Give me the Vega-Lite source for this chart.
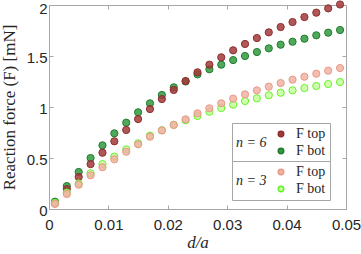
{
  "$schema": "https://vega.github.io/schema/vega-lite/v6.json",
  "width": 297,
  "height": 204,
  "autosize": {"type": "none"},
  "padding": {"left": 49, "top": 5, "right": 15, "bottom": 45},
  "background": "white",
  "config": {
    "view": {"stroke": "#a6a6a6", "strokeWidth": 1},
    "axis": {
      "grid": false,
      "domainColor": "#a6a6a6",
      "tickColor": "#a6a6a6",
      "tickSize": -4,
      "labelFlush": false,
      "labelFont": "Liberation Sans",
      "labelFontSize": 15,
      "labelColor": "#262626",
      "titleFont": "Liberation Serif",
      "titleFontSize": 17,
      "titleFontWeight": "normal",
      "titleColor": "#262626"
    },
    "legend": {
      "orient": "none",
      "direction": "vertical",
      "strokeColor": "#a6a6a6",
      "fillColor": "white",
      "padding": 4,
      "titleOrient": "left",
      "titleFont": "Liberation Serif",
      "titleFontStyle": "italic",
      "titleFontWeight": "normal",
      "titleFontSize": 14,
      "titleColor": "#262626",
      "titlePadding": 7,
      "labelFont": "Liberation Serif",
      "labelFontSize": 14,
      "labelColor": "#262626",
      "symbolSize": 30,
      "rowPadding": 3,
      "labelOffset": 8,
      "labelLimit": 200
    }
  },
  "datasets": {
    "n6": [
      {"x": 0.001, "F": 0.072, "s": "bot"}, {"x": 0.003, "F": 0.225, "s": "bot"}, {"x": 0.005, "F": 0.363, "s": "bot"}, {"x": 0.007, "F": 0.5, "s": "bot"}, {"x": 0.009, "F": 0.624, "s": "bot"},
      {"x": 0.011, "F": 0.742, "s": "bot"}, {"x": 0.013, "F": 0.846, "s": "bot"}, {"x": 0.015, "F": 0.948, "s": "bot"}, {"x": 0.017, "F": 1.036, "s": "bot"}, {"x": 0.019, "F": 1.118, "s": "bot"},
      {"x": 0.021, "F": 1.193, "s": "bot"}, {"x": 0.023, "F": 1.25, "s": "bot"}, {"x": 0.025, "F": 1.32, "s": "bot"}, {"x": 0.027, "F": 1.37, "s": "bot"}, {"x": 0.029, "F": 1.415, "s": "bot"},
      {"x": 0.031, "F": 1.46, "s": "bot"}, {"x": 0.033, "F": 1.5, "s": "bot"}, {"x": 0.035, "F": 1.539, "s": "bot"}, {"x": 0.037, "F": 1.575, "s": "bot"}, {"x": 0.039, "F": 1.611, "s": "bot"},
      {"x": 0.041, "F": 1.64, "s": "bot"}, {"x": 0.043, "F": 1.67, "s": "bot"}, {"x": 0.045, "F": 1.703, "s": "bot"}, {"x": 0.047, "F": 1.729, "s": "bot"}, {"x": 0.049, "F": 1.755, "s": "bot"},
      {"x": 0.001, "F": 0.056, "s": "top"}, {"x": 0.003, "F": 0.195, "s": "top"}, {"x": 0.005, "F": 0.314, "s": "top"}, {"x": 0.007, "F": 0.44, "s": "top"}, {"x": 0.009, "F": 0.552, "s": "top"},
      {"x": 0.011, "F": 0.664, "s": "top"}, {"x": 0.013, "F": 0.775, "s": "top"}, {"x": 0.015, "F": 0.882, "s": "top"}, {"x": 0.017, "F": 0.98, "s": "top"}, {"x": 0.019, "F": 1.078, "s": "top"},
      {"x": 0.021, "F": 1.167, "s": "top"}, {"x": 0.023, "F": 1.255, "s": "top"}, {"x": 0.025, "F": 1.34, "s": "top"}, {"x": 0.027, "F": 1.415, "s": "top"}, {"x": 0.029, "F": 1.487, "s": "top"},
      {"x": 0.031, "F": 1.556, "s": "top"}, {"x": 0.033, "F": 1.618, "s": "top"}, {"x": 0.035, "F": 1.676, "s": "top"}, {"x": 0.037, "F": 1.732, "s": "top"}, {"x": 0.039, "F": 1.784, "s": "top"},
      {"x": 0.041, "F": 1.833, "s": "top"}, {"x": 0.043, "F": 1.882, "s": "top"}, {"x": 0.045, "F": 1.925, "s": "top"}, {"x": 0.047, "F": 1.967, "s": "top"}, {"x": 0.049, "F": 2.005, "s": "top"}
    ],
    "n3": [
      {"x": 0.001, "F": 0.06, "s": "bot"}, {"x": 0.003, "F": 0.16, "s": "bot"}, {"x": 0.005, "F": 0.25, "s": "bot"}, {"x": 0.007, "F": 0.35, "s": "bot"}, {"x": 0.009, "F": 0.44, "s": "bot"},
      {"x": 0.011, "F": 0.513, "s": "bot"}, {"x": 0.013, "F": 0.585, "s": "bot"}, {"x": 0.015, "F": 0.644, "s": "bot"}, {"x": 0.017, "F": 0.719, "s": "bot"}, {"x": 0.019, "F": 0.772, "s": "bot"},
      {"x": 0.021, "F": 0.826, "s": "bot"}, {"x": 0.023, "F": 0.87, "s": "bot"}, {"x": 0.025, "F": 0.912, "s": "bot"}, {"x": 0.027, "F": 0.954, "s": "bot"}, {"x": 0.029, "F": 0.99, "s": "bot"},
      {"x": 0.031, "F": 1.023, "s": "bot"}, {"x": 0.033, "F": 1.059, "s": "bot"}, {"x": 0.035, "F": 1.085, "s": "bot"}, {"x": 0.037, "F": 1.115, "s": "bot"}, {"x": 0.039, "F": 1.14, "s": "bot"},
      {"x": 0.041, "F": 1.163, "s": "bot"}, {"x": 0.043, "F": 1.186, "s": "bot"}, {"x": 0.045, "F": 1.206, "s": "bot"}, {"x": 0.047, "F": 1.225, "s": "bot"}, {"x": 0.049, "F": 1.245, "s": "bot"},
      {"x": 0.001, "F": 0.05, "s": "top"}, {"x": 0.003, "F": 0.147, "s": "top"}, {"x": 0.005, "F": 0.238, "s": "top"}, {"x": 0.007, "F": 0.33, "s": "top"}, {"x": 0.009, "F": 0.41, "s": "top"},
      {"x": 0.011, "F": 0.487, "s": "top"}, {"x": 0.013, "F": 0.562, "s": "top"}, {"x": 0.015, "F": 0.634, "s": "top"}, {"x": 0.017, "F": 0.709, "s": "top"}, {"x": 0.019, "F": 0.77, "s": "top"},
      {"x": 0.021, "F": 0.824, "s": "top"}, {"x": 0.023, "F": 0.879, "s": "top"}, {"x": 0.025, "F": 0.938, "s": "top"}, {"x": 0.027, "F": 0.987, "s": "top"}, {"x": 0.029, "F": 1.036, "s": "top"},
      {"x": 0.031, "F": 1.082, "s": "top"}, {"x": 0.033, "F": 1.124, "s": "top"}, {"x": 0.035, "F": 1.163, "s": "top"}, {"x": 0.037, "F": 1.2, "s": "top"}, {"x": 0.039, "F": 1.235, "s": "top"},
      {"x": 0.041, "F": 1.268, "s": "top"}, {"x": 0.043, "F": 1.297, "s": "top"}, {"x": 0.045, "F": 1.327, "s": "top"}, {"x": 0.047, "F": 1.356, "s": "top"}, {"x": 0.049, "F": 1.382, "s": "top"}
    ]
  },
  "layer": [
    {
      "layer": [
        {
          "data": {"name": "n6"},
          "mark": {"type": "point", "filled": true, "size": 52, "strokeWidth": 1, "fillOpacity": 0.85, "strokeOpacity": 1},
          "encoding": {
            "x": {"field": "x", "type": "quantitative", "scale": {"domain": [0, 0.05], "nice": false, "zero": false}, "axis": {"values": [0, 0.01, 0.02, 0.03, 0.04, 0.05], "format": "~g", "title": "d/a", "titleFontStyle": "italic", "labelPadding": 12, "titlePadding": 2}},
            "y": {"field": "F", "type": "quantitative", "scale": {"domain": [0, 2], "nice": false, "zero": false}, "axis": {"values": [0, 0.5, 1, 1.5, 2], "format": "~g", "title": "Reaction force (F) [mN]", "labelPadding": 6, "labelBaseline": {"condition": {"test": "datum.value == 2", "value": "top"}, "value": "middle"}, "labelOffset": {"condition": {"test": "datum.value == 2", "value": -4}, "value": 1}, "titlePadding": 8}},
            "fill": {"field": "s", "type": "nominal", "sort": ["top", "bot"], "scale": {"domain": ["top", "bot"], "range": ["#a33a3a", "#2f9b3d"]}, "legend": {"title": "n = 6", "labelExpr": "datum.value == 'top' ? 'F top' : 'F bot'", "legendX": 183, "legendY": 118}},
            "stroke": {"field": "s", "type": "nominal", "sort": ["top", "bot"], "scale": {"domain": ["top", "bot"], "range": ["#8c2e2e", "#237a30"]}, "legend": {"title": "n = 6", "labelExpr": "datum.value == 'top' ? 'F top' : 'F bot'", "legendX": 183, "legendY": 118}}
          }
        },
        {
          "data": {"name": "n3"},
          "mark": {"type": "point", "filled": true, "size": 52, "strokeWidth": 1, "fillOpacity": 0.85, "strokeOpacity": 1},
          "encoding": {
            "x": {"field": "x", "type": "quantitative"},
            "y": {"field": "F", "type": "quantitative"},
            "fill": {"field": "s", "type": "nominal", "sort": ["top", "bot"], "scale": {"domain": ["top", "bot"], "range": ["#f1b2a2", "#c6ff9c"]}, "legend": {"title": "n = 3", "labelExpr": "datum.value == 'top' ? 'F top' : 'F bot'", "legendX": 183, "legendY": 156}},
            "stroke": {"field": "s", "type": "nominal", "sort": ["top", "bot"], "scale": {"domain": ["top", "bot"], "range": ["#e89a88", "#66f22a"]}, "legend": {"title": "n = 3", "labelExpr": "datum.value == 'top' ? 'F top' : 'F bot'", "legendX": 183, "legendY": 156}}
          }
        }
      ],
      "resolve": {"scale": {"fill": "independent", "stroke": "independent"}}
    },
    {
      "data": {"name": "n6"},
      "mark": {"type": "point", "opacity": 0},
      "encoding": {
        "x": {"field": "x", "type": "quantitative", "scale": {"domain": [0, 0.05], "nice": false, "zero": false}, "axis": {"orient": "top", "values": [0, 0.01, 0.02, 0.03, 0.04, 0.05], "labels": false, "title": null, "domain": false}},
        "y": {"field": "F", "type": "quantitative", "scale": {"domain": [0, 2], "nice": false, "zero": false}, "axis": {"orient": "right", "values": [0, 0.5, 1, 1.5, 2], "labels": false, "title": null, "domain": false}}
      }
    }
  ],
  "resolve": {"axis": {"x": "independent", "y": "independent"}}
}
